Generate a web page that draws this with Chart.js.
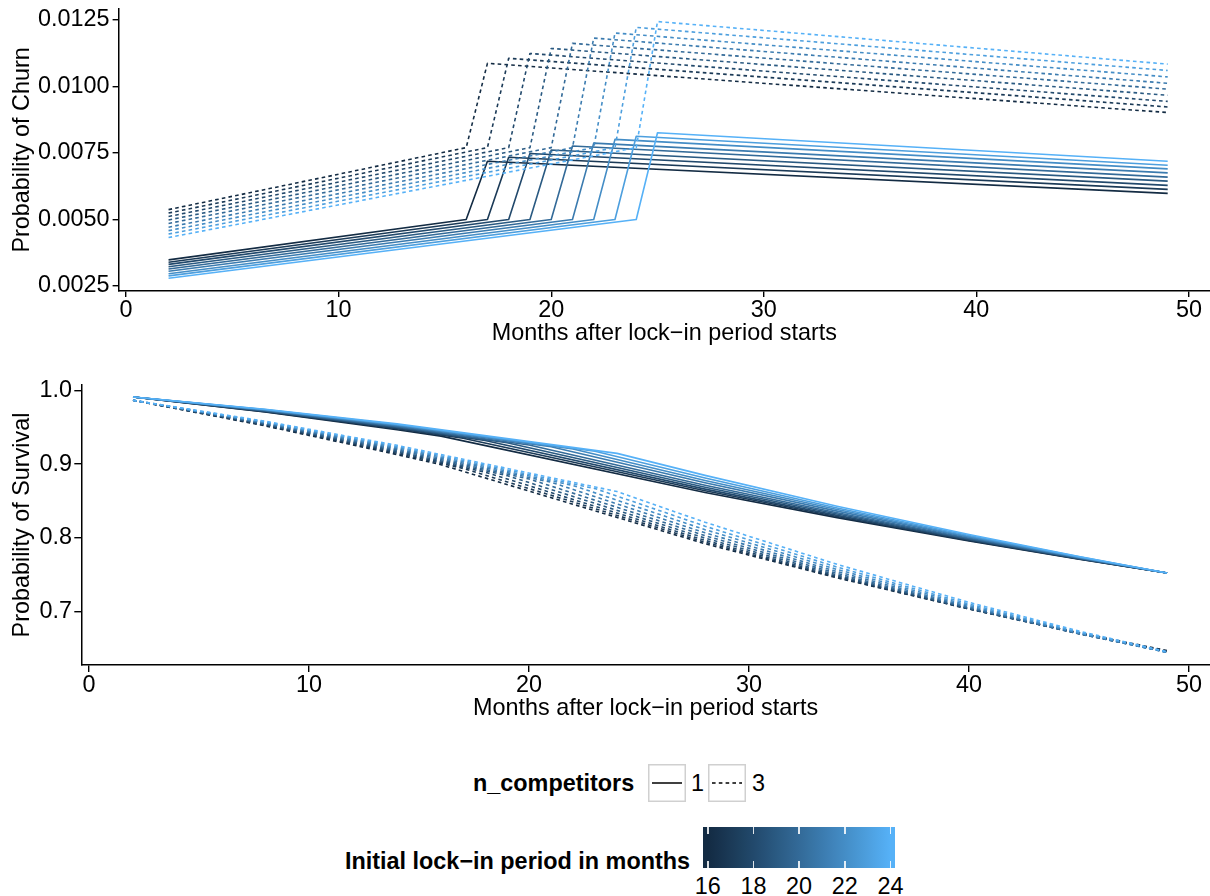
<!DOCTYPE html>
<html>
<head>
<meta charset="utf-8">
<script src="https://cdn.jsdelivr.net/npm/chart.js@4.4.1/dist/chart.umd.min.js"></script>
<style>
  html, body { margin: 0; padding: 0; background: #fff; }
  body { width: 1210px; height: 896px; position: relative; overflow: hidden;
         font-family: "Liberation Sans", Arial, Helvetica, sans-serif; }
  canvas { position: absolute; left: 0; }
  #churnChart { top: 0; }
  #survChart { top: 350px; }
  .txt { position: absolute; font-size: 23.4px; line-height: 23px; height: 23px; white-space: nowrap; color: #000; }
  .bold { font-weight: bold; }
  .key { position: absolute; }
  #bar { position: absolute; left: 703px; top: 827px; width: 192px; height: 41px; }
  .btick { position: absolute; width: 1.5px; height: 7px; background: rgba(255,255,255,0.85); }
</style>
</head>
<body>
<canvas id="churnChart" width="1210" height="350"></canvas>
<canvas id="survChart" width="1210" height="380"></canvas>
<div id="legend"></div>
<script>
// ---- data ---------------------------------------------------------------
const lockIn = [16, 17, 18, 19, 20, 21, 22, 23, 24];      // initial lock-in period (months)
const competitors = [1, 3];                                // n_competitors
const firstMonth = 2;
const lastMonth = 49;
const xTicks = [0, 10, 20, 30, 40, 50];
const churnTicks = [0.0025, 0.0050, 0.0075, 0.0100, 0.0125];
const survTicks = [0.7, 0.8, 0.9, 1.0];
const barLabels = [16, 18, 20, 22, 24];

// monthly churn probability, one competitor (per lock-in period)
const churnStart1   = [0.00348, 0.00339, 0.00331, 0.00322, 0.00314, 0.00305, 0.00296, 0.00288, 0.00279];
const churnLockEnd1 = [0.00500, 0.00500, 0.00500, 0.00500, 0.00500, 0.00500, 0.00500, 0.00500, 0.00500];
const churnAfter1   = [0.00719, 0.00734, 0.00748, 0.00761, 0.00776, 0.00787, 0.00801, 0.00813, 0.00826];
const churnEnd1     = [0.00598, 0.00613, 0.00628, 0.00644, 0.00659, 0.00675, 0.00690, 0.00704, 0.00719];
// monthly churn probability, three competitors
const churnStart3   = [0.00537, 0.00524, 0.00511, 0.00498, 0.00485, 0.00471, 0.00458, 0.00445, 0.00432];
const churnLockEnd3 = [0.00770, 0.00770, 0.00770, 0.00770, 0.00770, 0.00770, 0.00770, 0.00770, 0.00770];
const churnAfter3   = [0.01087, 0.01106, 0.01124, 0.01143, 0.01162, 0.01182, 0.01201, 0.01222, 0.01244];
const churnEnd3     = [0.00902, 0.00923, 0.00944, 0.00967, 0.00990, 0.01012, 0.01036, 0.01060, 0.01084];

// survival probability: months 2, 8, 14, end of lock-in, 28, 34, 40, 45, 49
const survBefore = [2, 8, 14];
const survAfter = [28, 34, 40, 45, 49];
const survival1 = [
  [0.9910, 0.9706, 0.9467, 0.9380, 0.8617, 0.8276, 0.7959, 0.7713, 0.7526],
  [0.9910, 0.9711, 0.9479, 0.9350, 0.8639, 0.8290, 0.7967, 0.7716, 0.7526],
  [0.9910, 0.9717, 0.9490, 0.9320, 0.8662, 0.8306, 0.7976, 0.7720, 0.7526],
  [0.9910, 0.9721, 0.9500, 0.9290, 0.8688, 0.8324, 0.7986, 0.7724, 0.7526],
  [0.9910, 0.9726, 0.9509, 0.9260, 0.8715, 0.8341, 0.7996, 0.7728, 0.7526],
  [0.9910, 0.9732, 0.9521, 0.9235, 0.8748, 0.8364, 0.8009, 0.7734, 0.7526],
  [0.9910, 0.9736, 0.9530, 0.9205, 0.8779, 0.8385, 0.8021, 0.7739, 0.7526],
  [0.9910, 0.9740, 0.9538, 0.9175, 0.8812, 0.8407, 0.8033, 0.7744, 0.7526],
  [0.9910, 0.9744, 0.9546, 0.9146, 0.8848, 0.8431, 0.8047, 0.7749, 0.7526]
];
const survival3 = [
  [0.9865, 0.9519, 0.9130, 0.8992, 0.7922, 0.7460, 0.7039, 0.6716, 0.6476],
  [0.9865, 0.9527, 0.9146, 0.8942, 0.7943, 0.7469, 0.7038, 0.6708, 0.6463],
  [0.9865, 0.9535, 0.9162, 0.8892, 0.7968, 0.7482, 0.7041, 0.6704, 0.6460],
  [0.9865, 0.9542, 0.9177, 0.8845, 0.7998, 0.7499, 0.7047, 0.6702, 0.6455],
  [0.9865, 0.9550, 0.9193, 0.8799, 0.8032, 0.7520, 0.7056, 0.6703, 0.6452],
  [0.9865, 0.9559, 0.9209, 0.8755, 0.8070, 0.7545, 0.7070, 0.6708, 0.6450],
  [0.9865, 0.9566, 0.9225, 0.8711, 0.8113, 0.7574, 0.7086, 0.6715, 0.6452],
  [0.9865, 0.9574, 0.9240, 0.8669, 0.8160, 0.7606, 0.7105, 0.6725, 0.6455],
  [0.9865, 0.9582, 0.9255, 0.8629, 0.8213, 0.7643, 0.7128, 0.6739, 0.6460]
];

// ---- colour scale (dark navy -> light blue, blended in CIELAB) -----------
const LOW = '#132B43', HIGH = '#56B1F7';
function hexRgb(h) { return [1, 3, 5].map(i => parseInt(h.substr(i, 2), 16)); }
function toLin(c) { c /= 255; return c <= 0.04045 ? c / 12.92 : Math.pow((c + 0.055) / 1.055, 2.4); }
function fromLin(c) {
  const v = c <= 0.0031308 ? 12.92 * c : 1.055 * Math.pow(c, 1 / 2.4) - 0.055;
  return Math.round(Math.max(0, Math.min(1, v)) * 255);
}
function rgbLab(rgb) {
  const [R, G, B] = rgb.map(toLin);
  const X = (0.4124564 * R + 0.3575761 * G + 0.1804375 * B) / 0.95047;
  const Y = (0.2126729 * R + 0.7151522 * G + 0.0721750 * B);
  const Z = (0.0193339 * R + 0.1191920 * G + 0.9503041 * B) / 1.08883;
  const f = t => t > 216 / 24389 ? Math.cbrt(t) : (24389 / 27 * t + 16) / 116;
  const fx = f(X), fy = f(Y), fz = f(Z);
  return [116 * fy - 16, 500 * (fx - fy), 200 * (fy - fz)];
}
function labRgb([L, a, b]) {
  const fy = (L + 16) / 116, fx = fy + a / 500, fz = fy - b / 200;
  const inv = t => t * t * t > 216 / 24389 ? t * t * t : (116 * t - 16) / (24389 / 27);
  const X = inv(fx) * 0.95047, Y = inv(fy), Z = inv(fz) * 1.08883;
  const R = 3.2404542 * X - 1.5371385 * Y - 0.4985314 * Z;
  const G = -0.9692660 * X + 1.8760108 * Y + 0.0415560 * Z;
  const B = 0.0556434 * X - 0.2040259 * Y + 1.0572252 * Z;
  return [fromLin(R), fromLin(G), fromLin(B)];
}
const labLow = rgbLab(hexRgb(LOW)), labHigh = rgbLab(hexRgb(HIGH));
function lockColour(L) {
  const t = Math.max(0, Math.min(1, (L - lockIn[0]) / (lockIn[lockIn.length - 1] - lockIn[0])));
  const lab = labLow.map((v, i) => v + (labHigh[i] - v) * t);
  const [r, g, b] = labRgb(lab);
  return `rgb(${r},${g},${b})`;
}

// ---- datasets -----------------------------------------------------------
const LINE_W = 1.6;
const DASH = [3.6, 3.2];
function lineSet(points, L, nComp) {
  return {
    data: points,
    borderColor: lockColour(L),
    borderWidth: LINE_W,
    borderDash: nComp === 1 ? [] : DASH,
    pointRadius: 0,
    fill: false,
    order: lockIn[lockIn.length - 1] - L   // longer lock-in drawn on top
  };
}

const churnSets = [];
const survSets = [];
competitors.forEach(nComp => {
  const cs = nComp === 1 ? [churnStart1, churnLockEnd1, churnAfter1, churnEnd1]
                         : [churnStart3, churnLockEnd3, churnAfter3, churnEnd3];
  const sv = nComp === 1 ? survival1 : survival3;
  lockIn.forEach((L, i) => {
    const cm = [firstMonth, L, L + 1, lastMonth];
    churnSets.push(lineSet(cm.map((m, k) => ({ x: m, y: cs[k][i] })), L, nComp));
    const sm = [...survBefore, L, ...survAfter];
    survSets.push(lineSet(sm.map((m, k) => ({ x: m, y: sv[i][k] })), L, nComp));
  });
});

// ---- charts -------------------------------------------------------------
const FONT = '"Liberation Sans", Arial, Helvetica, sans-serif';
Chart.defaults.font.family = FONT;
Chart.defaults.font.size = 23.4;
Chart.defaults.color = '#000';

function makeChart(id, cfg) {
  return new Chart(document.getElementById(id), {
    type: 'line',
    data: { datasets: cfg.datasets },
    options: {
      responsive: false,
      animation: false,
      devicePixelRatio: 1,
      layout: { padding: { top: cfg.padTop, left: 0, right: 0, bottom: 0 } },
      plugins: { legend: { display: false }, tooltip: { enabled: false } },
      elements: { line: { tension: 0, borderCapStyle: 'butt', borderJoinStyle: 'round' } },
      scales: {
        x: {
          type: 'linear',
          min: cfg.xMin, max: cfg.xMax,
          afterBuildTicks: s => { s.ticks = xTicks.map(v => ({ value: v })); },
          afterFit: s => { s.height = cfg.xAxisH; s.paddingLeft = 0; s.paddingRight = 0; },
          grid: { drawOnChartArea: false, drawTicks: true, tickLength: cfg.tickX, color: '#000', lineWidth: 1.4 },
          border: { display: true, color: '#000', width: 1.5 },
          ticks: { padding: cfg.xTickPad, maxRotation: 0, autoSkip: false, color: '#000',
                   callback: v => String(v) },
          title: { display: true, text: 'Months after lock\u2212in period starts', color: '#000',
                   padding: { top: 0, bottom: cfg.xTitlePad } }
        },
        y: {
          type: 'linear',
          min: cfg.yMin, max: cfg.yMax,
          afterBuildTicks: s => { s.ticks = cfg.yTicks.map(v => ({ value: v })); },
          afterFit: s => { s.width = cfg.yAxisW; s.paddingTop = 0; s.paddingBottom = 0; },
          grid: { drawOnChartArea: false, drawTicks: true, tickLength: cfg.tickY, color: '#000', lineWidth: 1.4 },
          border: { display: true, color: '#000', width: 1.5 },
          ticks: { padding: cfg.yTickPad, color: '#000', callback: v => v.toFixed(cfg.decimals) },
          title: { display: true, text: cfg.yTitle, color: '#000', padding: { top: 9, bottom: 0 } }
        }
      }
    }
  });
}

makeChart('churnChart', {
  datasets: churnSets,
  padTop: 8.8,
  xMin: -0.35, xMax: 50.99, xAxisH: 59, tickX: 6, xTickPad: -0.5, xTitlePad: 2,
  yMin: 0.00231, yMax: 0.01292, yTicks: churnTicks, yAxisW: 118.6, tickY: 6, yTickPad: 3,
  decimals: 4, yTitle: 'Probability of Churn'
});

makeChart('survChart', {
  datasets: survSets,
  padTop: 35,
  xMin: -0.35, xMax: 50.95, xAxisH: 65, tickX: 7, xTickPad: -0.5, xTitlePad: 7,
  yMin: 0.628, yMax: 1.0072, yTicks: survTicks, yAxisW: 81.3, tickY: 7, yTickPad: 2.3,
  decimals: 1, yTitle: 'Probability of Survival'
});

// ---- legends ------------------------------------------------------------
const legend = document.getElementById('legend');
function addText(text, left, top, bold) {
  const d = document.createElement('div');
  d.className = 'txt' + (bold ? ' bold' : '');
  d.textContent = text;
  d.style.left = left + 'px';
  d.style.top = top + 'px';
  legend.appendChild(d);
  return d;
}
const SVGNS = 'http://www.w3.org/2000/svg';
function addKey(left, top, dashed) {
  const s = document.createElementNS(SVGNS, 'svg');
  s.setAttribute('class', 'key');
  s.setAttribute('width', 38); s.setAttribute('height', 38);
  s.style.left = left + 'px'; s.style.top = top + 'px';
  const r = document.createElementNS(SVGNS, 'rect');
  r.setAttribute('x', 0.75); r.setAttribute('y', 0.75);
  r.setAttribute('width', 36.5); r.setAttribute('height', 36.5);
  r.setAttribute('fill', '#fff'); r.setAttribute('stroke', '#d0d0d0'); r.setAttribute('stroke-width', 1.5);
  s.appendChild(r);
  const l = document.createElementNS(SVGNS, 'line');
  l.setAttribute('x1', 4); l.setAttribute('x2', 34); l.setAttribute('y1', 19); l.setAttribute('y2', 19);
  l.setAttribute('stroke', '#000'); l.setAttribute('stroke-width', 1.5);
  if (dashed) l.setAttribute('stroke-dasharray', DASH.join(' '));
  s.appendChild(l);
  legend.appendChild(s);
}

addText('n_competitors', 473, 771.5, true);
const keyLeft = [648, 708];
const keyLabelLeft = [691, 752];
competitors.forEach((n, i) => {
  addKey(keyLeft[i], 764, n !== 1);
  addText(String(n), keyLabelLeft[i], 772, false);
});

addText('Initial lock\u2212in period in months', 345, 849.5, true);

// colour bar
const bar = document.createElement('div');
bar.id = 'bar';
const BAR_W = 192, TICK0 = 4.8, TICK1 = 187.4;
const barPos = L => TICK0 + (L - lockIn[0]) / (lockIn[lockIn.length - 1] - lockIn[0]) * (TICK1 - TICK0);
const stops = [`${lockColour(lockIn[0])} 0px`];
for (let k = 0; k <= 16; k++) {
  const L = lockIn[0] + k * 0.5;
  stops.push(`${lockColour(L)} ${barPos(L).toFixed(2)}px`);
}
stops.push(`${lockColour(lockIn[lockIn.length - 1])} ${BAR_W}px`);
bar.style.background = `linear-gradient(to right, ${stops.join(', ')})`;
barLabels.forEach(v => {
  const x = barPos(v) - 0.75;
  [0, 34].forEach(t => {
    const tk = document.createElement('div');
    tk.className = 'btick';
    tk.style.left = x + 'px';
    tk.style.top = t + 'px';
    bar.appendChild(tk);
  });
});
legend.appendChild(bar);
barLabels.forEach(v => {
  const d = addText(String(v), 0, 875, false);
  const w = d.getBoundingClientRect().width;
  d.style.left = (703 + barPos(v) - w / 2) + 'px';
});
</script>
</body>
</html>
